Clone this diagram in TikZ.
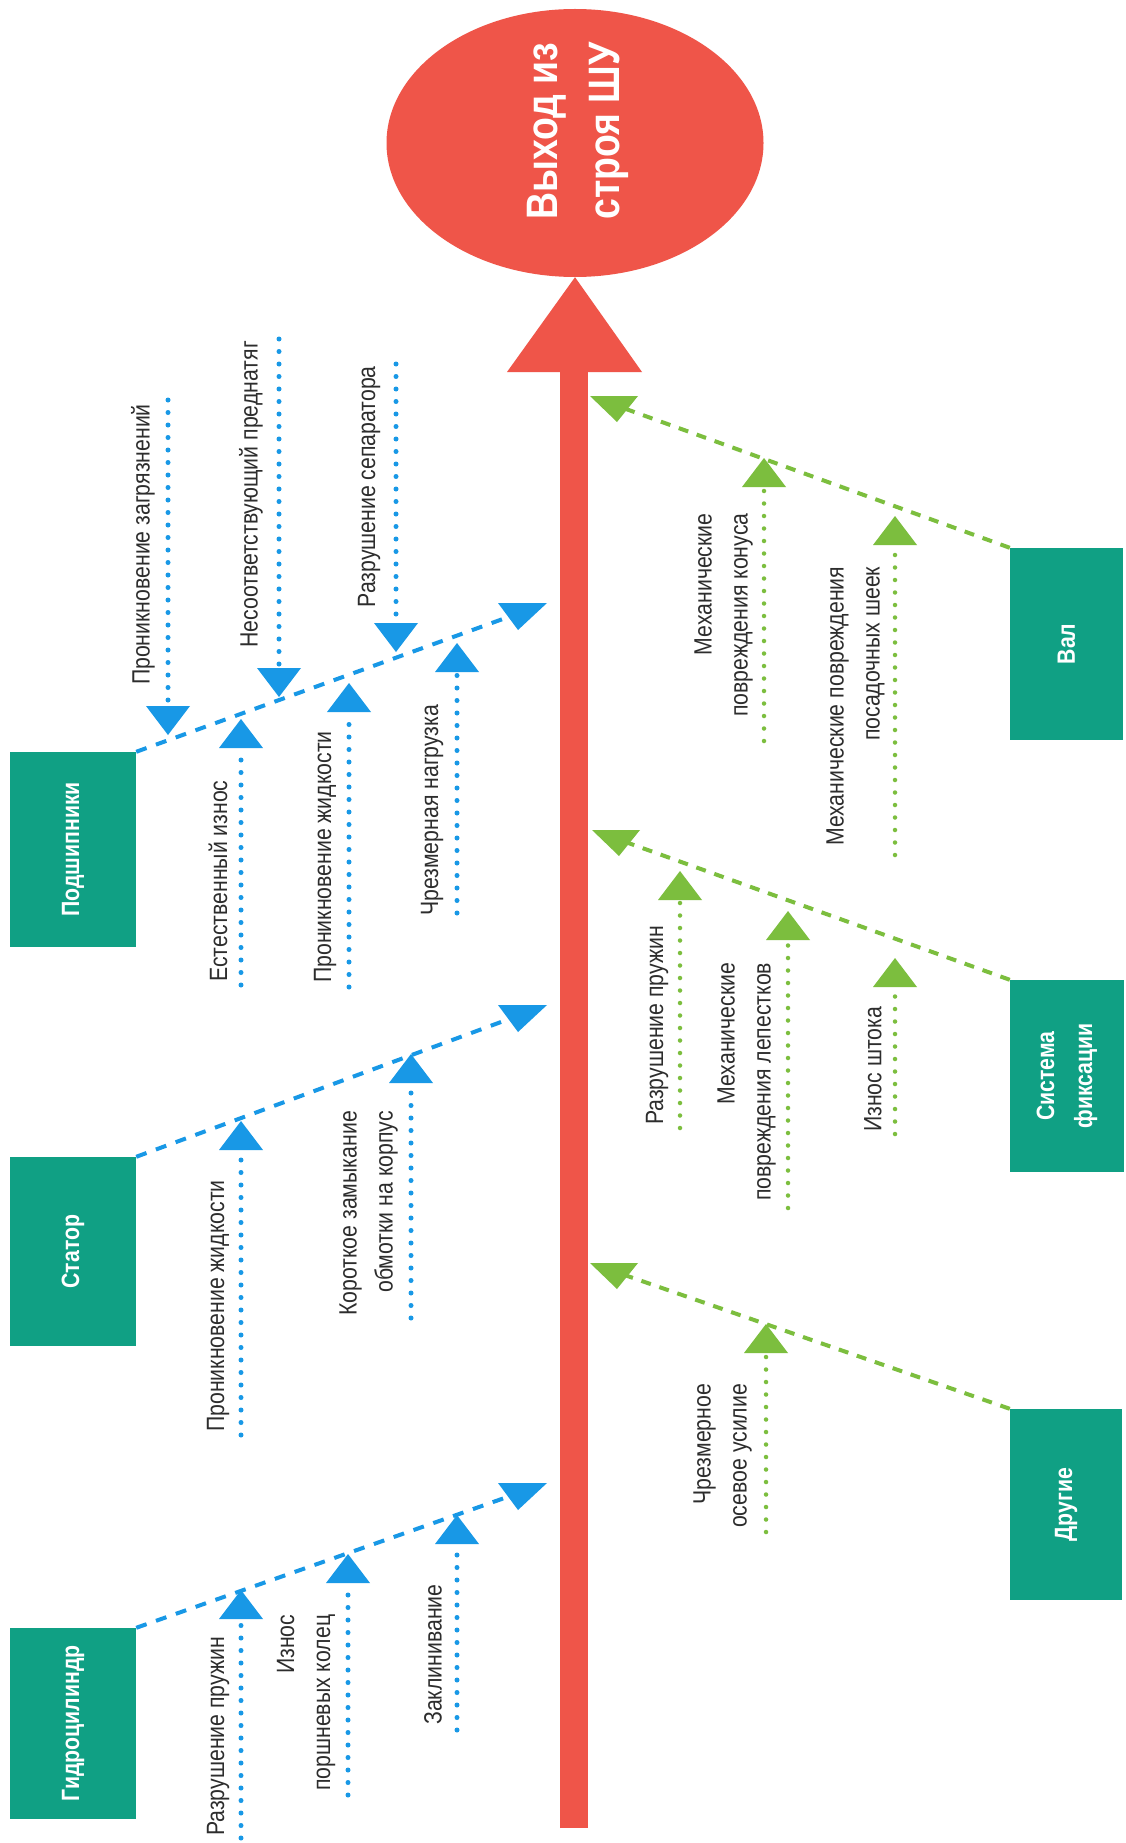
\documentclass[tikz,border=0pt]{standalone}
\usepackage{fontspec}
\setmainfont{Liberation Sans}
\newfontfamily\lab{Liberation Sans}[FakeStretch=0.85]
\usetikzlibrary{shapes.geometric}
\definecolor{blu}{RGB}{24,152,230}
\definecolor{grn}{RGB}{124,190,62}
\definecolor{tealbox}{RGB}{16,160,132}
\definecolor{redd}{RGB}{239,85,73}
\definecolor{txt}{RGB}{45,45,45}
\newcommand\upc[5]{%
  \coordinate (#1a) at (#2,#3);
  \coordinate (#1e) at (#2,#4);
  \fill[#5fill] (#1a) -- ++(-22,29) -- ++(44,0) -- cycle;
  \draw[#5dot] (#1e) -- ([yshift=-31pt]#1a);
}
\newcommand\dnc[5]{%
  \coordinate (#1a) at (#2,#3);
  \coordinate (#1e) at (#2,#4);
  \fill[#5fill] (#1a) -- ++(-22,-29) -- ++(44,0) -- cycle;
  \draw[#5dot] (#1e) -- ([yshift=31pt]#1a);
}
\begin{document}
\begin{tikzpicture}[x=1pt,y=-1pt,
  box/.style={rectangle, fill=tealbox, rotate=90, inner sep=0pt, text=white, align=center,
    font=\lab\bfseries\fontsize{25}{38}\selectfont},
  lbl/.style={rotate=90, inner sep=0pt, text=txt, align=right,
    font=\lab\fontsize{25}{36}\selectfont},
  bbone/.style={draw=blu, line width=4pt, dash pattern=on 11pt off 10pt, shorten >=30pt},
  gbone/.style={draw=grn, line width=4pt, dash pattern=on 10pt off 9pt, shorten >=30pt},
  bdot/.style={draw=blu, line width=5pt, line cap=round, dash pattern=on 0pt off 12.5pt},
  gdot/.style={draw=grn, line width=4.5pt, line cap=round, dash pattern=on 0pt off 12.5pt},
  bfill/.style={fill=blu},
  gfill/.style={fill=grn},
]
\useasboundingbox (0,0) rectangle (1125,1843);
\fill[white] (0,0) rectangle (1125,1843);

% head and spine
\node[ellipse, fill=redd, minimum width=377pt, minimum height=268pt, inner sep=0pt] (head) at (575,143) {};
\node[rotate=90, text=white, align=center, inner sep=0pt,
  font=\lab\bfseries\fontsize{44}{62}\selectfont] (headtxt) at (578,131) {Выход из\\строя ШУ};
\coordinate (tail) at (574,1828);
\coordinate (sbase) at (574,372);
\draw[redd, line width=28pt] (tail) -- (sbase);
\fill[redd] (head.south) -- ([xshift=-67pt]sbase) -- ([xshift=68pt]sbase) -- cycle;

% boxes
\node[box, minimum width=195pt, minimum height=126pt] (bP) at (73,849.5) {Подшипники};
\node[box, minimum width=189pt, minimum height=126pt] (bS) at (73,1251.5) {Статор};
\node[box, minimum width=191pt, minimum height=126pt] (bG) at (73,1723.5) {Гидроцилиндр};
\node[box, minimum width=192pt, minimum height=113pt] (bV) at (1066.5,644) {Вал};
\node[box, minimum width=192pt, minimum height=114pt] (bF) at (1067,1076) {Система\\фиксации};
\node[box, minimum width=191pt, minimum height=112pt] (bD) at (1066,1504.5) {Другие};

% bones (left, blue)
\coordinate (tP) at (547,603);
\coordinate (tS) at (547,1005);
\coordinate (tG) at (547,1483);
\draw[bbone] (bP.south east) -- (tP);
\draw[bbone] (bS.south east) -- (tS);
\draw[bbone] (bG.south east) -- (tG);
\fill[blu] (tP) -- ++(-49,0) -- ++(20,27) -- cycle;
\fill[blu] (tS) -- ++(-49,0) -- ++(20,27) -- cycle;
\fill[blu] (tG) -- ++(-49,0) -- ++(20,27) -- cycle;

% bones (right, green)
\coordinate (tV) at (590,396);
\coordinate (tF) at (592,830);
\coordinate (tD) at (590,1263);
\draw[gbone] (bV.north east) -- (tV);
\draw[gbone] (bF.north east) -- (tF);
\draw[gbone] (bD.north east) -- (tD);
\fill[grn] (tV) -- ++(48,0) -- ++(-21,26) -- cycle;
\fill[grn] (tF) -- ++(48,0) -- ++(-21,26) -- cycle;
\fill[grn] (tD) -- ++(48,0) -- ++(-21,26) -- cycle;

% sub-causes: bearings
\dnc{p1}{168}{735}{400}{b}
\dnc{p2}{279}{697}{339}{b}
\dnc{p3}{396}{652}{364}{b}
\upc{p4}{241}{719}{985}{b}
\upc{p5}{349}{683}{987}{b}
\upc{p6}{457}{643}{913}{b}
% stator
\upc{s1}{241}{1121}{1435}{b}
\upc{s2}{411}{1054}{1318}{b}
% hydro cylinder
\upc{g1}{241}{1590}{1838}{b}
\upc{g2}{348}{1554}{1795}{b}
\upc{g3}{457}{1515}{1730}{b}
% shaft
\upc{v1}{764}{458}{741}{g}
\upc{v2}{895}{516}{855}{g}
% fixation
\upc{f1}{680}{871}{1128}{g}
\upc{f2}{788}{911}{1208}{g}
\upc{f3}{895}{958}{1134}{g}
% other
\upc{d1}{766}{1324}{1532}{g}

% labels left
\node[lbl, anchor=east] (lp1) at (143,404) {Проникновение загрязнений};
\node[lbl, anchor=east] (lp2) at (251,341) {Несоответствующий преднатяг};
\node[lbl, anchor=east] (lp3) at (369,366) {Разрушение сепаратора};
\node[lbl, anchor=west] (lp4) at (218,982) {Естественный износ};
\node[lbl, anchor=west] (lp5) at (325,983) {Проникновение жидкости};
\node[lbl, anchor=west] (lp6) at (432,916) {Чрезмерная нагрузка};
\node[lbl, anchor=west] (ls1) at (218,1432) {Проникновение жидкости};
\node[lbl, anchor=west] (ls2) at (368.5,1316) {Короткое замыкание\\обмотки на корпус};
\node[lbl, anchor=west] (lg1) at (218,1836) {Разрушение пружин};
\node[lbl, anchor=west] (lg2) at (306,1791) {Износ\\поршневых колец};
\node[lbl, anchor=west] (lg3) at (433,1725) {Заклинивание};

% labels right
\node[lbl, anchor=west] (lv1) at (723.5,717) {Механические\\повреждения конуса};
\node[lbl, anchor=west] (lv2) at (855.5,846) {Механические повреждения\\посадочных шеек};
\node[lbl, anchor=west] (lf1) at (657,1125) {Разрушение пружин};
\node[lbl, anchor=west] (lf2) at (746.5,1201) {Механические\\повреждения лепестков};
\node[lbl, anchor=west] (lf3) at (873,1132) {Износ штока};
\node[lbl, anchor=west] (ld1) at (722.5,1528) {Чрезмерное\\осевое усилие};
\end{tikzpicture}
\end{document}
